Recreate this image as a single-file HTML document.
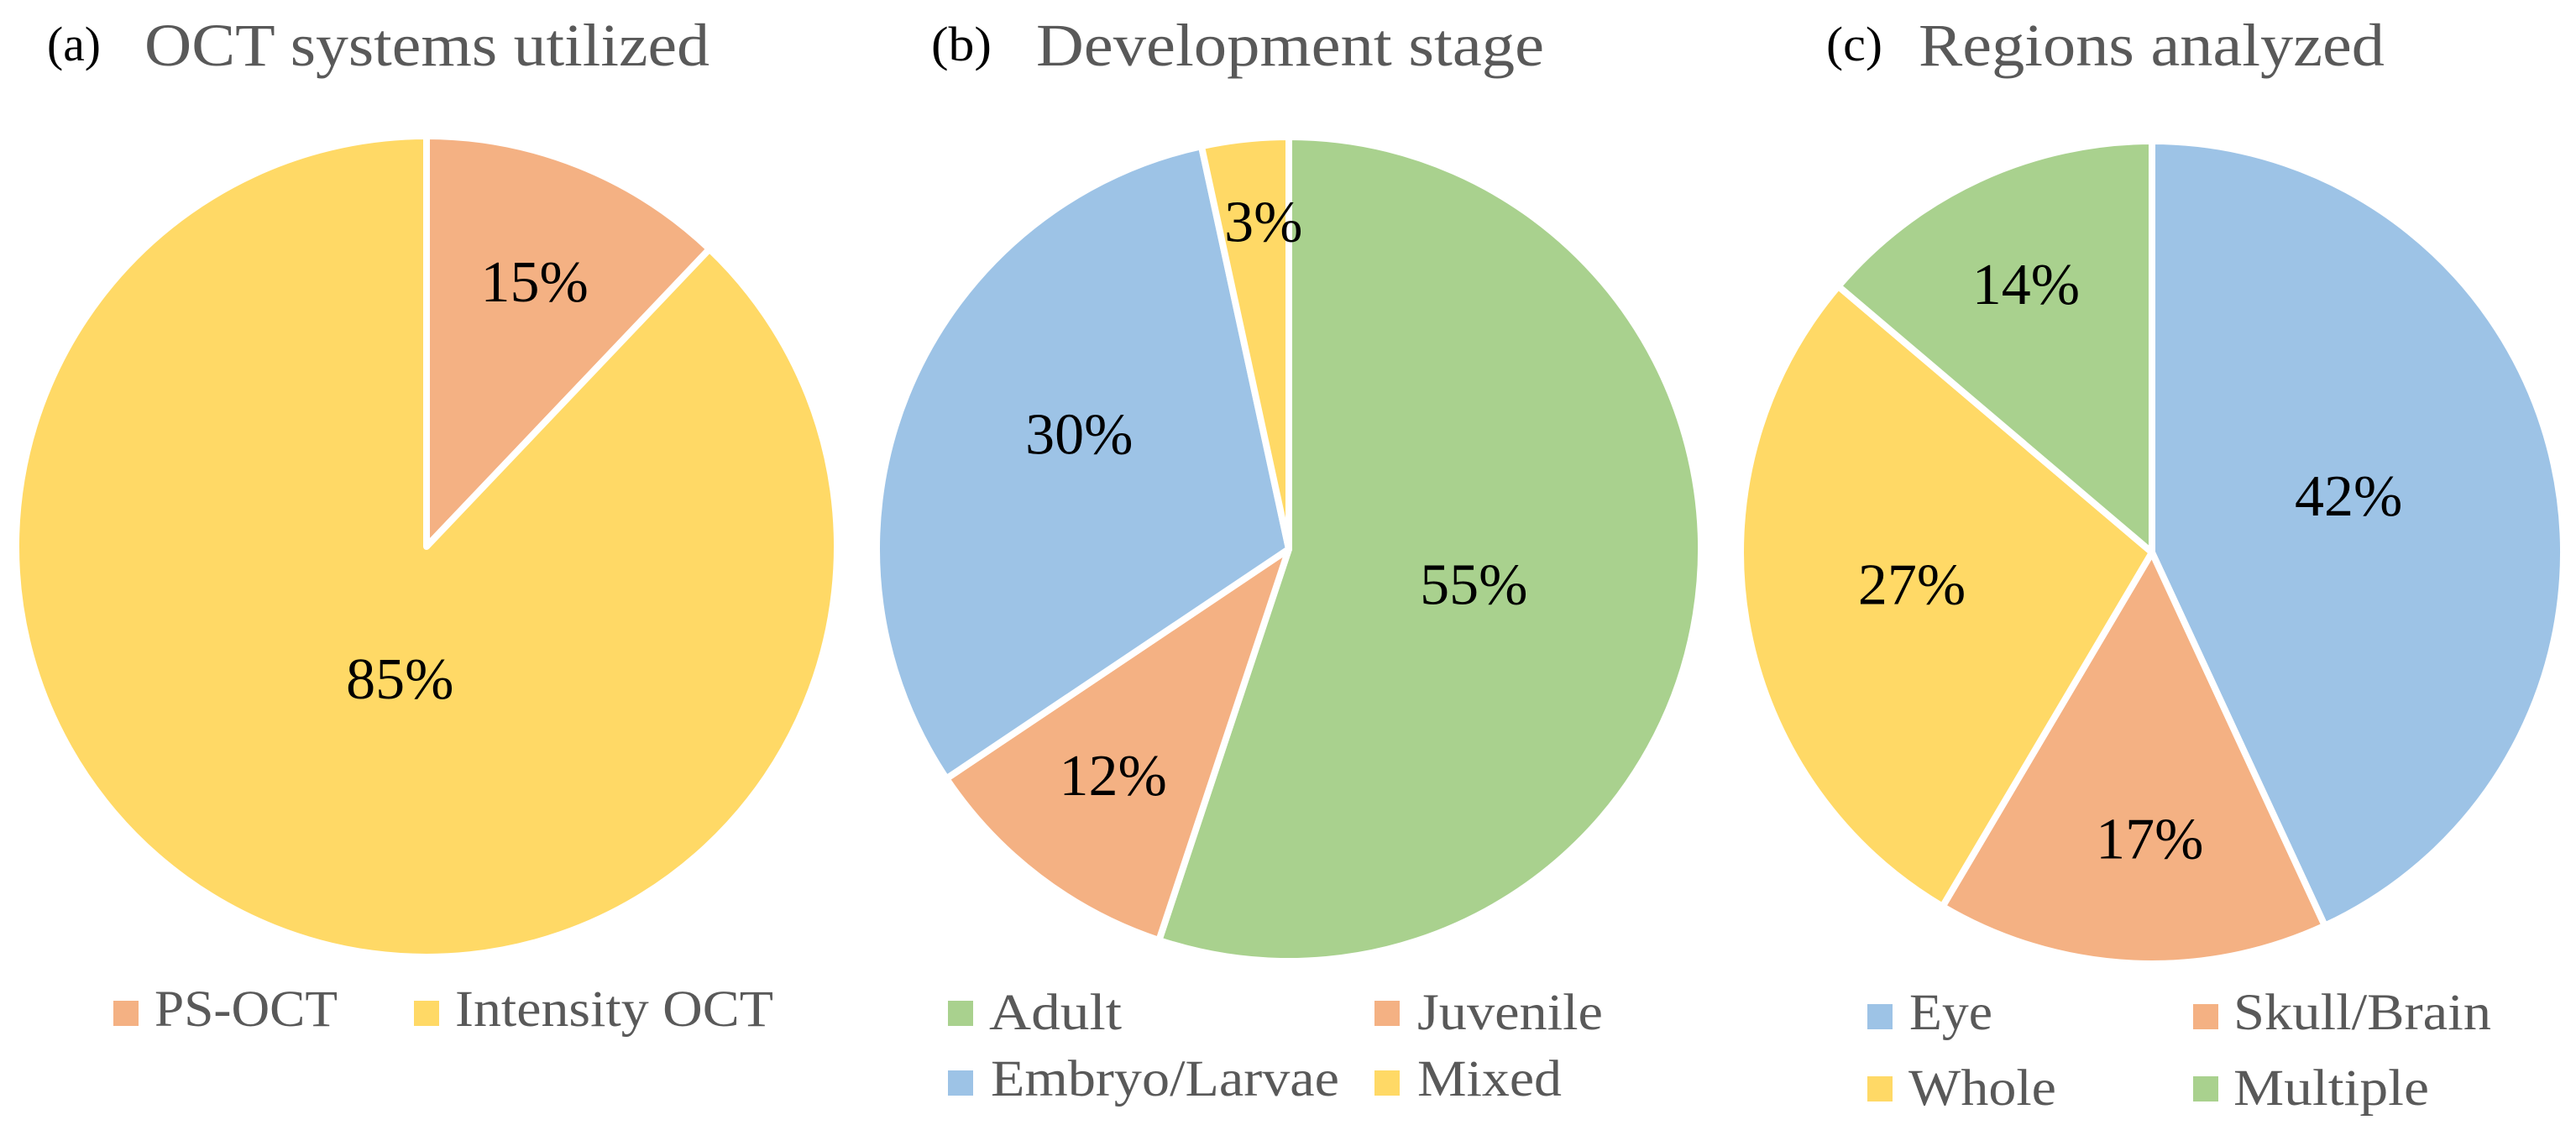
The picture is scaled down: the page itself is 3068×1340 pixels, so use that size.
<!DOCTYPE html>
<html lang="en">
<head>
<meta charset="utf-8">
<title>OCT study pie charts</title>
<style>
html,body{margin:0;padding:0;background:#fff;width:3068px;height:1340px;overflow:hidden}
svg{display:block}
text{font-family:"Liberation Serif",serif}
</style>
</head>
<body>
<svg id="figure" xmlns="http://www.w3.org/2000/svg" width="3068" height="1340" viewBox="0 0 3068 1340">
  <text x="56" y="72" font-size="58" fill="#000" textLength="64" lengthAdjust="spacingAndGlyphs">(a)</text>
  <text x="172" y="78" font-size="72" fill="#595959" textLength="673" lengthAdjust="spacingAndGlyphs">OCT systems utilized</text>
  <text x="1109" y="72" font-size="58" fill="#000" textLength="72" lengthAdjust="spacingAndGlyphs">(b)</text>
  <text x="1234" y="78" font-size="72" fill="#595959" textLength="605" lengthAdjust="spacingAndGlyphs">Development stage</text>
  <text x="2175" y="72" font-size="58" fill="#000" textLength="67" lengthAdjust="spacingAndGlyphs">(c)</text>
  <text x="2285" y="78" font-size="72" fill="#595959" textLength="555" lengthAdjust="spacingAndGlyphs">Regions analyzed</text>
</svg>
<script>
// Panel (a)
const oct_categories = ['PS-OCT', 'Intensity OCT'];
const oct_values = [12.1, 87.9];
const oct_labels = ['15%', '85%'];
// Panel (b)
const stage_categories = ['Adult', 'Juvenile', 'Embryo/Larvae', 'Mixed'];
const stage_values = [55.1, 10.5, 31.0, 3.4];
const stage_labels = ['55%', '12%', '30%', '3%'];
// Panel (c)
const region_categories = ['Eye', 'Skull/Brain', 'Whole', 'Multiple'];
const region_values = [43.1, 15.4, 27.7, 13.8];
const region_labels = ['42%', '17%', '27%', '14%'];

const ORANGE = '#F4B183', YELLOW = '#FFD966', GREEN = '#A9D18E', BLUE = '#9DC3E6';
const SVG_NS = 'http://www.w3.org/2000/svg';
const svg = document.getElementById('figure');

const panels = [
  { id: 'oct', categories: oct_categories, values: oct_values, labels: oct_labels,
    colors: [ORANGE, YELLOW], cx: 508, cy: 651, r: 489,
    nudge: [[20, -20], [77, -91]],
    legend: [
      { sx: 135, sy: 1192, tx: 184, ty: 1222, w: 218 },
      { sx: 493, sy: 1192, tx: 542, ty: 1222, w: 379 }
    ] },
  { id: 'stage', categories: stage_categories, values: stage_values, labels: stage_labels,
    colors: [GREEN, ORANGE, BLUE, YELLOW], cx: 1535, cy: 654, r: 491,
    nudge: [[-69, 19], [-32, 60], [22, -4], [1, -75]],
    legend: [
      { sx: 1129, sy: 1192, tx: 1178, ty: 1226, w: 158 },
      { sx: 1637, sy: 1192, tx: 1688, ty: 1226, w: 221 },
      { sx: 1129, sy: 1275, tx: 1180, ty: 1305, w: 415 },
      { sx: 1637, sy: 1275, tx: 1688, ty: 1305, w: 172 }
    ] },
  { id: 'region', categories: region_categories, values: region_values, labels: region_labels,
    colors: [BLUE, ORANGE, YELLOW, GREEN], cx: 2563, cy: 658, r: 490,
    nudge: [[-52, 19], [12, 72], [3, 13], [-27, -30]],
    legend: [
      { sx: 2224, sy: 1196, tx: 2274, ty: 1226, w: 99 },
      { sx: 2612, sy: 1196, tx: 2660, ty: 1226, w: 307 },
      { sx: 2224, sy: 1282, tx: 2273, ty: 1316, w: 176 },
      { sx: 2612, sy: 1282, tx: 2660, ty: 1316, w: 233 }
    ] }
];

function polar(p, frac, radius) {
  const a = frac * 2 * Math.PI;
  return [p.cx + radius * Math.sin(a), p.cy - radius * Math.cos(a)];
}

function slug(s) {
  return s.toLowerCase().replace(/[^a-z0-9]+/g, '-');
}

panels.forEach(function (p) {
  const total = p.values.reduce(function (a, b) { return a + b; }, 0);
  let cum = 0;
  const labelLayer = [];
  p.values.forEach(function (v, i) {
    const start = cum / total;
    const end = (cum + v) / total;
    cum += v;
    const s = polar(p, start, p.r);
    const e = polar(p, end, p.r);
    const large = end - start > 0.5 ? 1 : 0;
    const path = document.createElementNS(SVG_NS, 'path');
    path.setAttribute('d', 'M' + p.cx + ' ' + p.cy + 'L' + s[0] + ' ' + s[1] +
      'A' + p.r + ' ' + p.r + ' 0 ' + large + ' 1 ' + e[0] + ' ' + e[1] + 'Z');
    path.setAttribute('fill', p.colors[i]);
    path.setAttribute('stroke', '#fff');
    path.setAttribute('stroke-width', '8');
    path.setAttribute('stroke-linejoin', 'round');
    
    
    svg.appendChild(path);
    labelLayer.push({ i: i, mid: (start + end) / 2 });
  });
  labelLayer.forEach(function (l) {
    const pos = polar(p, l.mid, 293);
    const t = document.createElementNS(SVG_NS, 'text');
    t.setAttribute('x', pos[0] + p.nudge[l.i][0]);
    t.setAttribute('y', pos[1] + p.nudge[l.i][1]);
    t.setAttribute('text-anchor', 'middle');
    t.setAttribute('font-size', '70');
    t.setAttribute('fill', '#000');
    t.textContent = p.labels[l.i];
    
    
    svg.appendChild(t);
  });
  p.categories.forEach(function (c, i) {
    const L = p.legend[i];
    const sq = document.createElementNS(SVG_NS, 'rect');
    sq.setAttribute('x', L.sx);
    sq.setAttribute('y', L.sy);
    sq.setAttribute('width', 30);
    sq.setAttribute('height', 30);
    sq.setAttribute('fill', p.colors[i]);
    
    
    svg.appendChild(sq);
    const t = document.createElementNS(SVG_NS, 'text');
    t.setAttribute('x', L.tx);
    t.setAttribute('y', L.ty);
    t.setAttribute('font-size', '61');
    t.setAttribute('fill', '#595959');
    t.setAttribute('textLength', L.w);
    t.setAttribute('lengthAdjust', 'spacingAndGlyphs');
    t.textContent = c;
    
    
    svg.appendChild(t);
  });
});
</script>
</body>
</html>
